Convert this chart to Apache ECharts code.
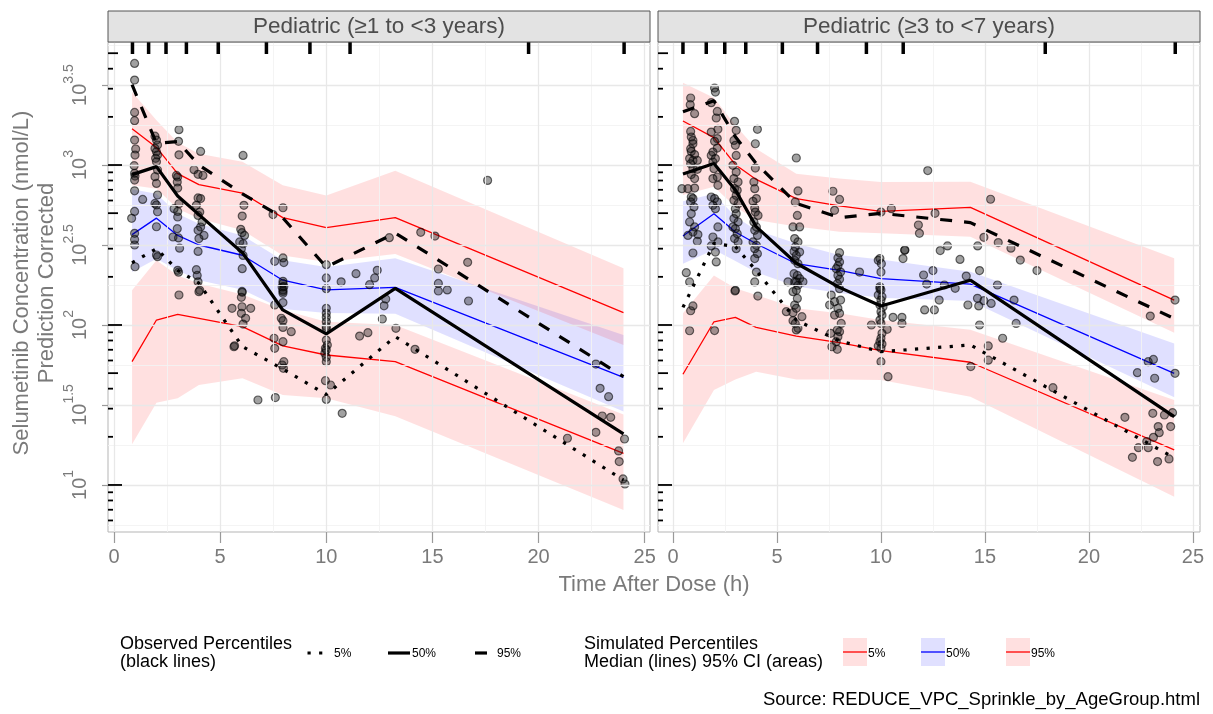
<!DOCTYPE html>
<html><head><meta charset="utf-8">
<script src="https://cdn.jsdelivr.net/npm/echarts@6/dist/echarts.min.js"></script>
<style>html,body{margin:0;padding:0;background:#fff}#chart{width:1213px;height:714px}</style>
</head><body><div id="chart"></div>
<script>
const panelTitles = ['Pediatric (\u22651 to <3 years)', 'Pediatric (\u22653 to <7 years)'];
const xTickValues = [0, 5, 10, 15, 20, 25];
const xMinorValues = [2.5, 7.5, 12.5, 17.5, 22.5];
const yTickValues = [1, 1.5, 2, 2.5, 3, 3.5];
const yMinorValues = [0.75, 1.25, 1.75, 2.25, 2.75, 3.25, 3.75];
const logTickMajor = [10, 100, 1000];
const logTickMid = [50, 500, 5000];
const logTickMinor = [6, 7, 8, 9, 20, 30, 40, 60, 70, 80, 90, 200, 300, 400, 600, 700, 800, 900, 2000, 3000, 4000];

// ---------- Panel 1: >=1 to <3 years ----------
const leftTime = [0.85, 2.0, 3.0, 4.0, 6.05, 7.95, 10.0, 13.25, 24.0];
const leftObsP05 = [2.389, 2.477, 2.342, 2.262, 1.865, 1.725, 1.565, 1.927, 1.031];
const leftObsP50 = [2.94, 2.99, 2.806, 2.69, 2.452, 2.094, 1.944, 2.229, 1.319];
const leftObsP95 = [3.502, 3.136, 3.146, 3.0, 2.82, 2.67, 2.362, 2.575, 1.677];
const leftSimP05Med = [1.771, 2.031, 2.067, 2.042, 1.99, 1.869, 1.8125, 1.771, 1.198];
const leftSimP05Lo = [1.254, 1.514, 1.542, 1.625, 1.667, 1.5625, 1.542, 1.43, 0.844];
const leftSimP05Hi = [2.217, 2.404, 2.31, 2.26, 2.19, 2.094, 2.02, 2.0, 1.44];
const leftSimP50Med = [2.565, 2.668, 2.56, 2.5, 2.436, 2.28, 2.22, 2.235, 1.673];
const leftSimP50Lo = [2.331, 2.414, 2.34, 2.28, 2.22, 2.10, 2.075, 2.07, 1.46];
const leftSimP50Hi = [2.848, 2.82, 2.696, 2.633, 2.56, 2.404, 2.3625, 2.417, 1.9375];
const leftSimP95Med = [3.227, 3.11, 2.946, 2.877, 2.825, 2.671, 2.608, 2.671, 2.077];
const leftSimP95Lo = [2.873, 2.852, 2.727, 2.665, 2.592, 2.435, 2.394, 2.444, 1.875];
const leftSimP95Hi = [3.456, 3.28, 3.14, 3.07, 3.02, 2.873, 2.81, 2.964, 2.354];
const leftBinRug = [0.87, 1.63, 2.45, 3.41, 4.91, 7.18, 9.23, 11.12, 19.53, 24.03];
const leftObserved = [
 [0.97,3.635],[0.97,3.531],[0.97,3.329],[0.97,3.277],[0.97,3.156],[1.02,3.10],[0.99,3.062],[0.95,2.996],[0.97,2.948],[0.99,2.931],
 [0.97,2.906],[0.97,2.839],[1.35,2.785],[0.97,2.71],[0.83,2.667],[0.97,2.573],[0.97,2.535],[0.97,2.50],[0.99,2.364],
 [1.93,3.18],[2.0,3.156],[2.05,3.125],[1.93,3.104],[2.0,3.083],[2.05,3.0625],[1.96,3.042],[2.0,3.02],[2.05,2.969],[1.93,2.927],
 [2.0,2.885],[2.05,2.8125],[1.93,2.76],[2.0,2.75],[2.05,2.708],[2.0,2.614],[2.0,2.4375],[2.05,2.427],
 [3.06,3.221],[3.04,3.148],[3.06,3.064],[2.94,2.935],[3.0,2.925],[2.98,2.894],[3.0,2.856],[3.06,2.758],[2.83,2.727],[3.0,2.71],
 [3.0,2.675],[2.98,2.602],[2.78,2.55],[3.04,2.544],[3.09,2.48],[3.0,2.342],[3.04,2.33],[3.06,2.1875],
 [4.08,3.085],[3.77,2.971],[3.96,2.942],[4.19,2.935],[3.96,2.794],[4.08,2.79],[3.88,2.748],[4.04,2.706],[3.96,2.685],[4.15,2.644],
 [4.08,2.6125],[3.96,2.592],[4.24,2.56],[4.0,2.54],[3.96,2.46],[3.88,2.346],[3.92,2.31],[3.96,2.27],[4.04,2.217],[4.0,2.208],
 [6.08,3.06],[6.12,2.748],[6.04,2.681],[5.97,2.598],[6.03,2.577],[6.15,2.56],[5.92,2.519],[6.08,2.508],[6.0,2.477],[6.08,2.435],
 [6.04,2.352],[6.03,2.21],[6.04,2.204],[6.0,2.173],[5.56,2.104],[6.03,2.114],[6.44,2.104],[6.0,2.073],[6.2,2.042],[6.08,2.006],
 [5.65,1.864],[5.68,1.87],
 [7.96,2.733],[7.49,2.69],[7.57,2.398],[7.96,2.419],[8.0,2.39],[7.96,2.273],[7.92,2.2375],[7.96,2.21],[7.96,2.26],[8.0,2.24],
 [7.96,2.219],[7.96,2.198],[7.57,2.125],[7.96,2.14],[7.88,2.042],[7.96,2.027],[7.96,1.985],[8.35,1.958],[7.54,1.917],[7.96,1.896],
 [7.57,1.854],[8.0,1.771],[7.92,1.75],[7.98,1.729],[7.6,1.546],[6.78,1.531],
 [10.0,2.377],[10.0,2.294],[10.0,2.227],[10.7,2.27],[11.4,2.321],[12.04,2.252],[12.28,2.294],[12.4,2.342],[10.0,2.104],[10.0,2.073],
 [10.0,2.048],[10.0,2.02],[10.0,1.99],[10.0,1.979],[10.0,1.906],[10.05,1.875],[9.96,1.854],[10.0,1.844],[9.93,1.823],[10.0,1.798],
 [10.0,1.771],[9.96,1.652],[10.2,1.625],[10.0,1.535],[10.75,1.448],[11.57,1.931],[11.96,1.952],
 [17.6,2.904],[12.97,2.546],[14.45,2.579],[15.12,2.556],[16.66,2.392],[15.28,2.35],[15.28,2.26],[15.28,2.2125],[15.7,2.219],[16.7,2.15],
 [12.8,2.1625],[12.72,2.12],[12.64,2.0375],[13.28,1.979],[14.18,1.848],
 [22.7,1.756],[22.9,1.604],[23.3,1.552],[23.0,1.431],[23.4,1.423],[22.7,1.329],[21.36,1.292],[24.05,1.2875],[23.77,1.2125],[23.8,1.146],
 [23.98,1.0375],[24.07,1.006]
];

// ---------- Panel 2: >=3 to <7 years ----------
const rightTime = [0.48, 1.97, 3.0, 4.0, 5.93, 8.0, 10.0, 14.3, 24.1];
const rightObsP05 = [2.11, 2.51, 2.49, 2.34, 2.03, 1.90, 1.833, 1.875, 1.17];
const rightObsP50 = [2.944, 3.01, 2.844, 2.615, 2.386, 2.235, 2.119, 2.28, 1.427];
const rightObsP95 = [3.333, 3.402, 3.177, 3.01, 2.76, 2.671, 2.698, 2.64, 2.04];
const rightSimP05Med = [1.692, 2.02, 2.048, 1.985, 1.931, 1.89, 1.84, 1.767, 1.219];
const rightSimP05Lo = [1.26, 1.594, 1.66, 1.708, 1.66, 1.66, 1.656, 1.552, 0.927];
const rightSimP05Hi = [2.073, 2.31, 2.229, 2.1875, 2.104, 2.073, 2.031, 1.97, 1.531];
const rightSimP50Med = [2.556, 2.696, 2.581, 2.508, 2.383, 2.342, 2.29, 2.256, 1.698];
const rightSimP50Lo = [2.383, 2.47, 2.40, 2.33, 2.24, 2.2, 2.17, 2.15, 1.548];
const rightSimP50Hi = [2.773, 2.82, 2.677, 2.594, 2.51, 2.4375, 2.41, 2.333, 1.885];
const rightSimP95Med = [3.275, 3.171, 3.002, 2.91, 2.79, 2.744, 2.71, 2.735, 2.156];
const rightSimP95Lo = [2.8125, 2.864, 2.739, 2.656, 2.615, 2.583, 2.573, 2.552, 1.952];
const rightSimP95Hi = [3.514, 3.42, 3.248, 3.102, 2.946, 2.915, 2.894, 2.896, 2.417];
const rightBinRug = [0.48, 1.6, 2.49, 3.5, 5.26, 6.95, 9.3, 11.07, 17.9, 24.15];
const rightObserved = [
 [0.85,3.419],[0.83,3.377],[1.04,3.321],[0.85,3.21],[0.88,3.175],[0.96,3.154],[0.96,3.133],[0.85,3.102],[0.88,3.085],[1.04,3.065],
 [0.8,3.04],[0.96,3.029],[1.17,3.029],[0.85,3.008],[0.96,2.977],[1.17,2.973],[0.88,2.94],[1.04,2.915],[0.43,2.852],[0.72,2.852],
 [1.04,2.856],[0.88,2.8],[0.96,2.79],[0.85,2.769],[1.01,2.738],[0.88,2.696],[0.8,2.644],[1.04,2.613],[0.96,2.581],[1.2,2.565],
 [0.72,2.56],[1.17,2.523],[0.96,2.45],[0.64,2.327],[0.8,2.269],[0.96,2.119],[0.85,2.089],[0.8,1.964],
 [2.0,3.481],[2.04,3.456],[1.84,3.39],[2.13,3.335],[2.08,3.294],[2.16,3.223],[1.84,3.206],[2.13,3.165],[2.0,3.148],[2.13,3.106],
 [1.92,3.081],[1.84,3.06],[2.04,3.04],[1.92,3.019],[1.97,2.977],[2.13,2.925],[1.92,2.915],[2.16,2.873],[1.84,2.8],[2.0,2.79],
 [2.13,2.769],[1.92,2.748],[2.04,2.727],[2.16,2.613],[1.92,2.55],[2.16,2.519],[1.84,2.494],[2.04,2.456],[2.08,2.394],[2.0,1.965],
 [2.96,3.273],[3.04,3.217],[2.93,3.154],[3.0,3.123],[3.04,3.06],[2.88,2.998],[3.04,2.956],[2.93,2.915],[3.13,2.894],[2.96,2.852],
 [3.09,2.842],[3.04,2.81],[2.93,2.779],[3.13,2.758],[3.0,2.727],[3.04,2.696],[2.93,2.665],[3.13,2.644],[2.88,2.613],[3.0,2.602],
 [3.09,2.571],[2.96,2.54],[3.13,2.519],[3.04,2.477],[3.0,2.217],[2.98,2.2125],
 [4.06,3.223],[3.96,3.133],[3.96,2.981],[3.89,2.894],[3.93,2.852],[4.01,2.79],[3.85,2.773],[3.93,2.731],[3.96,2.706],[4.09,2.685],
 [3.89,2.644],[4.01,2.613],[3.93,2.592],[4.06,2.56],[3.85,2.519],[4.01,2.498],[3.93,2.477],[4.06,2.446],[3.93,2.415],[4.01,2.331],
 [3.93,2.269],[4.08,2.181],
 [5.93,3.044],[6.01,2.838],[5.88,2.769],[5.98,2.685],[5.77,2.613],[6.09,2.613],[5.85,2.54],[6.01,2.519],[5.88,2.488],[5.82,2.46],
 [6.09,2.456],[5.93,2.435],[5.85,2.404],[6.01,2.383],[5.82,2.321],[5.98,2.31],[6.09,2.29],[5.85,2.269],[6.01,2.248],[5.93,2.217],
 [5.53,2.27],[5.93,2.27],[6.25,2.27],[5.77,2.208],[5.98,2.166],[5.85,2.125],[5.45,2.083],[5.77,2.077],[5.93,2.104],[6.2,2.052],
 [5.77,2.027],[5.88,2.01],[6.01,1.979],[5.93,1.969],
 [7.69,2.836],[8.01,2.785],[7.77,2.717],[8.01,2.452],[7.93,2.419],[8.01,2.394],[7.93,2.369],[7.85,2.352],[8.06,2.331],[7.93,2.31],
 [8.01,2.286],[7.9,2.258],[8.01,2.227],[8.97,2.331],[7.61,2.187],[7.77,2.146],[8.06,2.156],[7.53,2.125],[7.93,2.104],[7.77,2.062],
 [8.01,2.073],[8.09,2.01],[7.9,1.969],[8.01,1.958],[7.58,1.948],[7.93,1.927],[7.85,1.896],[7.64,1.864],[7.9,1.848],
 [10.0,2.706],[10.5,2.727],[9.95,2.415],[9.87,2.404],[10.02,2.383],[11.14,2.467],[11.06,2.415],[10.0,2.331],[9.95,2.227],[9.95,2.239],
 [10.0,2.219],[9.87,2.187],[10.05,2.177],[10.0,2.156],[9.95,2.125],[10.1,2.114],[10.0,2.083],[10.05,2.062],[9.95,2.031],[10.0,2.01],
 [9.54,2.0],[10.3,1.973],[10.05,1.948],[10.0,1.917],[9.95,1.896],[10.05,1.881],[9.87,1.869],[10.0,1.854],[10.0,1.771],[10.34,1.677],
 [10.58,2.048],[11.01,2.048],[11.01,2.01],
 [12.25,2.965],[12.6,2.698],[11.8,2.625],[11.85,2.573],[12.85,2.465],[13.2,2.494],[13.8,2.41],[14.65,2.494],[14.95,2.548],[15.27,2.786],
 [15.64,2.515],[16.25,2.48],[16.7,2.406],[17.5,2.34],[14.74,2.34],[14.1,2.306],[12.5,2.34],[12.05,2.3125],[11.15,2.469],
 [12.2,2.256],[13.05,2.25],[13.57,2.229],[12.8,2.156],[12.1,2.094],[14.18,2.125],[14.64,2.167],[14.95,2.152],[15.3,2.135],[14.7,2.119],
 [14.74,2.0],[15.6,2.25],[16.4,2.156],[16.5,2.01],[12.57,2.094],[15.85,1.917],[15.16,1.869],[15.16,1.78],[14.32,1.74],[18.27,1.608],
 [24.14,2.156],[22.95,2.056],[22.33,1.702],[22.85,1.771],[23.1,1.785],[23.16,1.667],[24.14,1.698],[21.73,1.423],[23.07,1.448],[23.63,1.4375],
 [24.02,1.452],[23.93,1.365],[23.33,1.365],[23.38,1.327],[23.1,1.298],[22.78,1.271],[22.38,1.233],[22.85,1.233],[22.09,1.173],[23.3,1.146],
 [23.85,1.1625]
];

// ---------- layout / style ----------
const FONT = "'Liberation Sans', Arial, Helvetica, sans-serif";
const Y_MIN = 0.706, Y_MAX = 3.769;
const PANELS = [
  { left: 108, xMin: -0.283, xMax: 25.25, time: leftTime,
    obs: [leftObsP05, leftObsP50, leftObsP95],
    sim: [[leftSimP05Lo, leftSimP05Med, leftSimP05Hi], [leftSimP50Lo, leftSimP50Med, leftSimP50Hi], [leftSimP95Lo, leftSimP95Med, leftSimP95Hi]],
    pts: leftObserved, rug: leftBinRug },
  { left: 658, xMin: -0.72, xMax: 25.34, time: rightTime,
    obs: [rightObsP05, rightObsP50, rightObsP95],
    sim: [[rightSimP05Lo, rightSimP05Med, rightSimP05Hi], [rightSimP50Lo, rightSimP50Med, rightSimP50Hi], [rightSimP95Lo, rightSimP95Med, rightSimP95Hi]],
    pts: rightObserved, rug: rightBinRug }
];
const PW = 542, PTOP = 42, PH = 490;
const PINK = 'rgba(255,0,0,0.12)', BLUE = 'rgba(0,0,255,0.12)';
const simColors = ['#ff0000', '#0000ff', '#ff0000'];
const bandColors = [PINK, BLUE, PINK];
const obsDash = [[3.2, 8.4], 'solid', [12, 12]];

const grids = [], xAxes = [], yAxes = [], series = [];
PANELS.forEach((p, g) => {
  grids.push({ left: p.left, top: PTOP, width: PW, height: PH, show: true, backgroundColor: '#fff', borderColor: '#b5b5b5', borderWidth: 1 });
  xAxes.push({
    type: 'value', gridIndex: g, min: p.xMin, max: p.xMax,
    axisLine: { show: false }, splitLine: { show: false },
    axisTick: { show: true, customValues: xTickValues, length: 11, lineStyle: { color: '#9a9a9a', width: 1.2 } },
    axisLabel: { show: true, customValues: xTickValues, color: '#7a7a7a', fontSize: 20, fontFamily: FONT, margin: 15 }
  });
  yAxes.push({
    type: 'value', gridIndex: g, min: Y_MIN, max: Y_MAX,
    axisLine: { show: false }, splitLine: { show: false },
    axisTick: { show: g === 0, customValues: yTickValues, length: 12, lineStyle: { color: '#9a9a9a', width: 1.2 } },
    axisLabel: {
      show: g === 0, customValues: yTickValues, rotate: 90, margin: 18,
      formatter: v => '{b|10}{e|' + v + '}',
      rich: {
        b: { fontSize: 20, color: '#7a7a7a', fontFamily: FONT, verticalAlign: 'bottom', lineHeight: 28 },
        e: { fontSize: 14, color: '#7a7a7a', fontFamily: FONT, verticalAlign: 'top', lineHeight: 28 }
      }
    }
  });
  // grid lines
  const ml = [];
  yMinorValues.forEach(v => ml.push({ yAxis: v, lineStyle: { color: '#f3f3f3', width: 0.9, type: 'solid' } }));
  xMinorValues.forEach(v => ml.push({ xAxis: v, lineStyle: { color: '#f3f3f3', width: 0.9, type: 'solid' } }));
  yTickValues.forEach(v => ml.push({ yAxis: v, lineStyle: { color: '#e8e8e8', width: 1.3, type: 'solid' } }));
  xTickValues.forEach(v => ml.push({ xAxis: v, lineStyle: { color: '#e8e8e8', width: 1.3, type: 'solid' } }));
  series.push({ type: 'line', xAxisIndex: g, yAxisIndex: g, z: 1, silent: true, symbol: 'none',
    data: [[p.xMin, Y_MIN]], lineStyle: { opacity: 0 },
    markLine: { silent: true, symbol: ['none', 'none'], label: { show: false }, emphasis: { disabled: true }, data: ml } });
  // simulated CI bands
  p.sim.forEach((s, k) => {
    const bandData = p.time.map((t, i) => [t, s[0][i], s[2][i]]);
    series.push({
      type: 'custom', xAxisIndex: g, yAxisIndex: g, z: 2, silent: true, data: bandData,
      encode: { x: 0, y: [1, 2] },
      renderItem: (params, api) => {
        if (params.dataIndex !== 0) return null;
        const pts = [];
        for (let i = 0; i < bandData.length; i++) pts.push(api.coord([bandData[i][0], bandData[i][2]]));
        for (let i = bandData.length - 1; i >= 0; i--) pts.push(api.coord([bandData[i][0], bandData[i][1]]));
        return { type: 'polygon', shape: { points: pts }, style: { fill: bandColors[k] } };
      }
    });
  });
  // simulated median lines
  p.sim.forEach((s, k) => {
    series.push({ type: 'line', xAxisIndex: g, yAxisIndex: g, z: 3, silent: true, symbol: 'none',
      data: p.time.map((t, i) => [t, s[1][i]]), lineStyle: { color: simColors[k], width: 1.3 } });
  });
  // observed points
  series.push({ type: 'scatter', xAxisIndex: g, yAxisIndex: g, z: 4, silent: true, symbol: 'circle', symbolSize: 8,
    data: p.pts, itemStyle: { color: 'rgba(20,20,20,0.5)', borderColor: 'rgba(0,0,0,0.7)', borderWidth: 1.2 } });
  // observed percentile lines
  p.obs.forEach((o, k) => {
    series.push({ type: 'line', xAxisIndex: g, yAxisIndex: g, z: 5, silent: true, symbol: 'none',
      data: p.time.map((t, i) => [t, o[i]]), lineStyle: { color: '#000', width: 3.2, type: obsDash[k], cap: 'butt' } });
  });
  // bin rug (top)
  series.push({ type: 'scatter', xAxisIndex: g, yAxisIndex: g, z: 6, silent: true, clip: false,
    symbol: 'rect', symbolSize: [3.5, 12], symbolOffset: [0, 6],
    data: p.rug.map(t => [t, Y_MAX]), itemStyle: { color: '#000', opacity: 1 } });
  // log ticks on the left side of the panel
  [[logTickMajor, 14], [logTickMid, 10], [logTickMinor, 5]].forEach(([vals, len]) => {
    series.push({ type: 'scatter', xAxisIndex: g, yAxisIndex: g, z: 6, silent: true, clip: false,
      symbol: 'rect', symbolSize: [len, 1.8], symbolOffset: [len / 2, 0],
      data: vals.map(v => [p.xMin, Math.log10(v)]).filter(d => d[1] >= Y_MIN && d[1] <= Y_MAX),
      itemStyle: { color: '#000', opacity: 1 } });
  });
});

const graphics = [];
PANELS.forEach((p, g) => {
  graphics.push({ type: 'rect', z: 10, shape: { x: p.left, y: 11, width: PW, height: 31 }, style: { fill: '#e3e3e3', stroke: '#555', lineWidth: 1 } });
  graphics.push({ type: 'text', z: 11, x: p.left + PW / 2, y: 27, style: { text: panelTitles[g], fontSize: 22.5, fontFamily: FONT, fill: '#4d4d4d', align: 'center', verticalAlign: 'middle' } });
});
graphics.push({ type: 'text', x: 34, y: 283, rotation: Math.PI / 2,
  style: { text: 'Selumetinib Concentration (nmol/L)\nPrediction Corrected', fontSize: 22, lineHeight: 25, fontFamily: FONT, fill: '#7a7a7a', align: 'center', verticalAlign: 'middle' } });
graphics.push({ type: 'text', x: 654, y: 585, style: { text: 'Time After Dose (h)', fontSize: 22, fontFamily: FONT, fill: '#7a7a7a', align: 'center', verticalAlign: 'middle' } });
// legend: observed
const legendY = 653;
graphics.push({ type: 'text', x: 120, y: legendY, style: { text: 'Observed Percentiles\n(black lines)', fontSize: 18, lineHeight: 18, fontFamily: FONT, fill: '#000', align: 'left', verticalAlign: 'middle' } });
const obsKeys = [
  { x1: 307.5, x2: 324, dash: [3.2, 8.4], label: '5%', lx: 334 },
  { x1: 388, x2: 410, dash: null, label: '50%', lx: 412 },
  { x1: 475, x2: 487, dash: null, label: '95%', lx: 497 }
];
obsKeys.forEach(k => {
  graphics.push({ type: 'line', shape: { x1: k.x1, y1: legendY, x2: k.x2, y2: legendY }, style: { stroke: '#000', lineWidth: 3.2, lineDash: k.dash } });
  graphics.push({ type: 'text', x: k.lx, y: legendY + 1, style: { text: k.label, fontSize: 12, fontFamily: FONT, fill: '#000', align: 'left', verticalAlign: 'middle' } });
});
// legend: simulated
graphics.push({ type: 'text', x: 584, y: legendY, style: { text: 'Simulated Percentiles\nMedian (lines) 95% CI (areas)', fontSize: 18, lineHeight: 18, fontFamily: FONT, fill: '#000', align: 'left', verticalAlign: 'middle' } });
const simKeys = [
  { x: 843, fill: PINK, stroke: '#ff0000', label: '5%' },
  { x: 921, fill: BLUE, stroke: '#0000ff', label: '50%' },
  { x: 1006, fill: PINK, stroke: '#ff0000', label: '95%' }
];
simKeys.forEach(k => {
  graphics.push({ type: 'rect', shape: { x: k.x, y: 638, width: 24, height: 28 }, style: { fill: k.fill } });
  graphics.push({ type: 'line', shape: { x1: k.x, y1: 652, x2: k.x + 24, y2: 652 }, style: { stroke: k.stroke, lineWidth: 1.3 } });
  graphics.push({ type: 'text', x: k.x + 25, y: legendY + 1, style: { text: k.label, fontSize: 12, fontFamily: FONT, fill: '#000', align: 'left', verticalAlign: 'middle' } });
});
graphics.push({ type: 'text', x: 1200, y: 700, style: { text: 'Source: REDUCE_VPC_Sprinkle_by_AgeGroup.html', fontSize: 18.5, fontFamily: FONT, fill: '#000', align: 'right', verticalAlign: 'middle' } });

const chart = echarts.init(document.getElementById('chart'), null, { renderer: 'canvas' });
chart.setOption({
  animation: false,
  backgroundColor: '#ffffff',
  textStyle: { fontFamily: FONT },
  grid: grids, xAxis: xAxes, yAxis: yAxes, series: series, graphic: graphics
});
</script></body></html>
